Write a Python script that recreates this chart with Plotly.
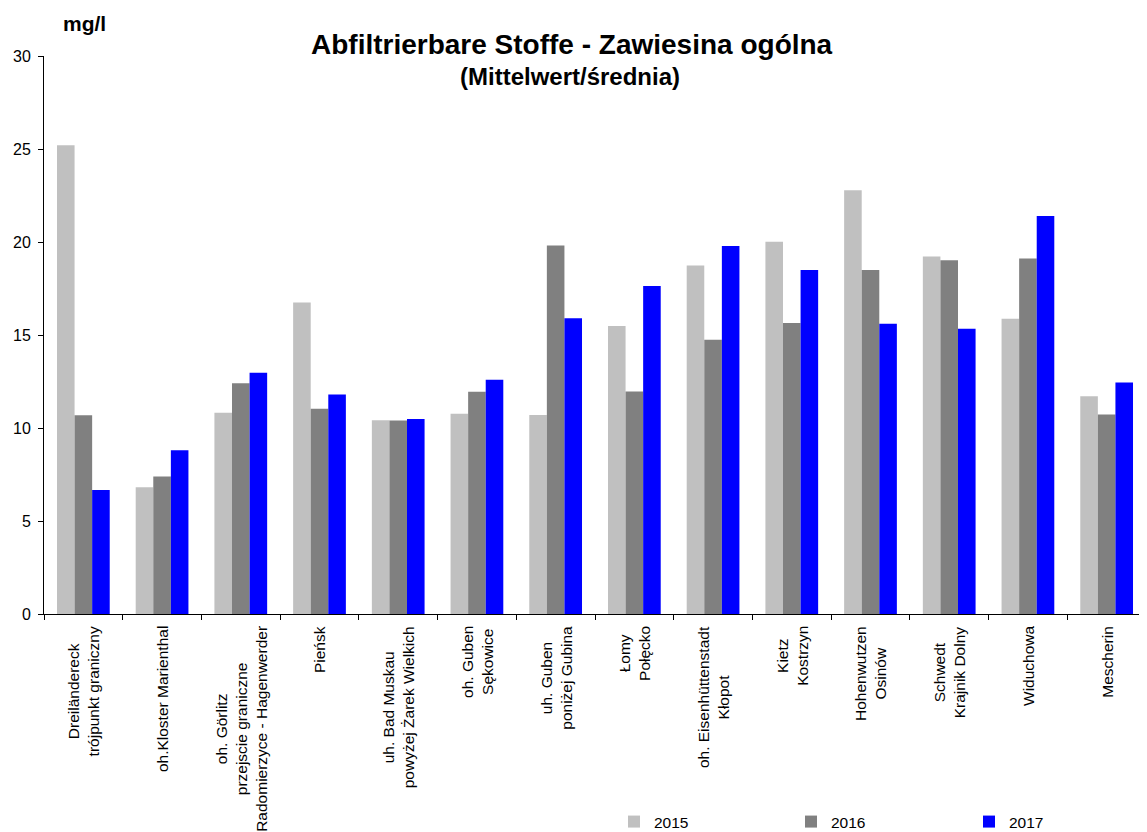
import plotly.graph_objects as go

categories = [
    "Dreiländereck<br>trójpunkt graniczny",
    "oh.Kloster Marienthal",
    "oh. Görlitz<br>przejscie graniczne<br>Radomierzyce - Hagenwerder",
    "Pieńsk",
    "uh. Bad Muskau<br>powyżej Żarek Wielkich",
    "oh. Guben<br>Sękowice",
    "uh. Guben<br>poniżej Gubina",
    "Łomy<br>Połęcko",
    "oh. Eisenhüttenstadt<br>Kłopot",
    "Kietz<br>Kostrzyn",
    "Hohenwutzen<br>Osinów",
    "Schwedt<br>Krajnik Dolny",
    "Widuchowa",
    "Mescherin",
]
keys = [f"c{i}" for i in range(len(categories))]

v2015 = [25.2, 6.82, 10.82, 16.75, 10.41, 10.77, 10.70, 15.49, 18.74, 20.02, 22.78, 19.22, 15.88, 11.71]
v2016 = [10.68, 7.39, 12.40, 11.04, 10.40, 11.95, 19.81, 11.96, 14.74, 15.65, 18.50, 19.02, 19.11, 10.73]
v2017 = [6.66, 8.80, 12.97, 11.80, 10.48, 12.59, 15.90, 17.63, 19.78, 18.49, 15.60, 15.33, 21.40, 12.45]

years = ["2015", "2016", "2017"]
colors = ["#C0C0C0", "#808080", "#0000FF"]
y_ticks = [0, 5, 10, 15, 20, 25, 30]

FONT = "Liberation Sans, Arial, sans-serif"
OFF = 8  # page body margin of the html page
W, H = 1147 - OFF, 832 - OFF
L, R, T, B = 44 - OFF, 1, 56 - OFF, 218
PW, PH = W - L - R, H - T - B


def px(xpage):
    return (xpage - OFF - L) / PW


def py(ypage):
    return (H - B - (ypage - OFF)) / PH


fig = go.Figure()
legend_names = ["legend", "legend2", "legend3"]
for name, vals, col, lg in zip(years, [v2015, v2016, v2017], colors, legend_names):
    fig.add_trace(go.Bar(
        x=keys, y=vals, name=name, marker=dict(color=col, line=dict(width=0)),
        legend=lg,
    ))

annotations = [
    dict(text="<b>Abfiltrierbare Stoffe - Zawiesina ogólna</b>", xref="paper", yref="paper",
         x=px(571.5), y=py(44), xanchor="center", yanchor="middle", showarrow=False,
         font=dict(size=28, color="black", family=FONT)),
    dict(text="<b>(Mittelwert/średnia)</b>", xref="paper", yref="paper",
         x=px(570), y=py(77), xanchor="center", yanchor="middle", showarrow=False,
         font=dict(size=24, color="black", family=FONT)),
    dict(text="<b>mg/l</b>", xref="paper", yref="paper",
         x=px(84), y=py(24), xanchor="center", yanchor="middle", showarrow=False,
         font=dict(size=21, color="black", family=FONT)),
]
for k, lab in zip(keys, categories):
    annotations.append(dict(
        text=lab, x=k, xref="x", y=-0.018, yref="paper", xanchor="center", yanchor="top",
        textangle=-90, align="center", showarrow=False,
        font=dict(size=15.5, color="black", family=FONT)))

leg_common = dict(orientation="h", xref="container", yref="container",
                  y=1 - (822 - OFF) / H, yanchor="middle", xanchor="left",
                  font=dict(size=15.5, color="black", family=FONT), bgcolor="rgba(0,0,0,0)",
                  borderwidth=0)

fig.update_layout(
    width=W, height=H,
    margin=dict(l=L, r=R, t=T, b=B, autoexpand=False),
    paper_bgcolor="white", plot_bgcolor="white",
    font=dict(family=FONT, color="black", size=15),
    barmode="group", bargap=0.33, bargroupgap=0,
    showlegend=True,
    legend=dict(x=(614 - OFF) / W, **leg_common),
    legend2=dict(x=(791 - OFF) / W, **leg_common),
    legend3=dict(x=(969 - OFF) / W, **leg_common),
    annotations=annotations,
    xaxis=dict(
        type="category", categoryorder="array", categoryarray=keys,
        showticklabels=False, showline=True, linecolor="black", linewidth=1,
        ticks="outside", tickson="boundaries", ticklen=5, tickcolor="black",
        showgrid=False, zeroline=False, automargin=False,
    ),
    yaxis=dict(
        range=[0, 30], tickvals=y_ticks, showline=True, linecolor="black", linewidth=1,
        ticks="outside", ticklen=5, tickcolor="black", showgrid=False, zeroline=False,
        tickfont=dict(size=16, color="black", family=FONT), automargin=False,
        ticklabelstandoff=4,
    ),
)

fig.write_html("out.html")
